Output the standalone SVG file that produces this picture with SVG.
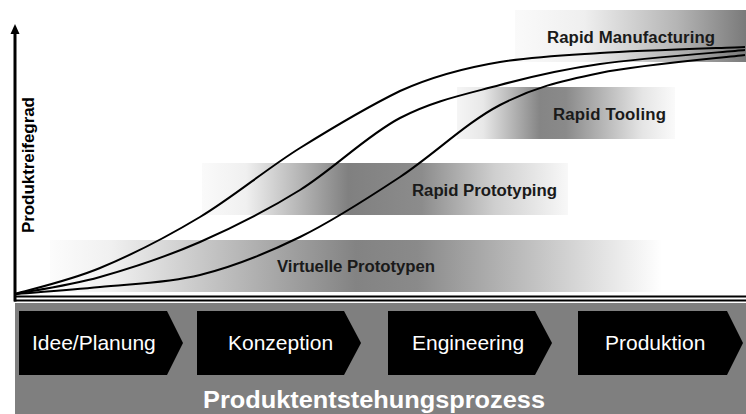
<svg xmlns="http://www.w3.org/2000/svg" width="746" height="414" viewBox="0 0 746 414">
  <defs>
    <linearGradient id="gVP" x1="0" y1="0" x2="1" y2="0">
      <stop offset="0" stop-color="#fcfcfc"/>
      <stop offset="0.1" stop-color="#f0f0f0"/>
      <stop offset="0.5" stop-color="#838383"/>
      <stop offset="0.6" stop-color="#8a8a8a"/>
      <stop offset="1" stop-color="#ffffff"/>
    </linearGradient>
    <linearGradient id="gRP" x1="0" y1="0" x2="1" y2="0">
      <stop offset="0" stop-color="#fafafa"/>
      <stop offset="0.12" stop-color="#f0f0f0"/>
      <stop offset="0.4" stop-color="#808080"/>
      <stop offset="0.6" stop-color="#8c8c8c"/>
      <stop offset="0.8" stop-color="#cfcfcf"/>
      <stop offset="1" stop-color="#f8f8f8"/>
    </linearGradient>
    <linearGradient id="gRT" x1="0" y1="0" x2="1" y2="0">
      <stop offset="0" stop-color="#f5f5f5"/>
      <stop offset="0.12" stop-color="#e8e8e8"/>
      <stop offset="0.38" stop-color="#858585"/>
      <stop offset="0.5" stop-color="#8a8a8a"/>
      <stop offset="0.85" stop-color="#e5e5e5"/>
      <stop offset="1" stop-color="#fafafa"/>
    </linearGradient>
    <linearGradient id="gRM" x1="0" y1="0" x2="1" y2="0">
      <stop offset="0" stop-color="#fafafa"/>
      <stop offset="0.3" stop-color="#efefef"/>
      <stop offset="0.7" stop-color="#b5b5b5"/>
      <stop offset="1" stop-color="#7a7a7a"/>
    </linearGradient>
  </defs>
  <style>
    .band-label { font-family: "Liberation Sans", Arial, sans-serif; font-weight: bold; font-size: 16.8px; fill: #1a1a1a; }
    .phase { fill: #000000; }
    .phase-label { font-family: "Liberation Sans", Arial, sans-serif; font-size: 21px; fill: #ffffff; }
    .curve { fill: none; stroke: #000000; stroke-width: 2; }
    .axis { stroke: #000000; fill: none; }
  </style>

  <rect width="746" height="414" fill="#ffffff"/>

  <g id="band-rapid-manufacturing">
    <rect x="515" y="10" width="231" height="52" fill="url(#gRM)"/>
    <text class="band-label" x="547" y="43" textLength="168">Rapid Manufacturing</text>
  </g>
  <g id="band-rapid-tooling">
    <rect x="457" y="87" width="218" height="52" fill="url(#gRT)"/>
    <text class="band-label" x="553" y="120" textLength="113">Rapid Tooling</text>
  </g>
  <g id="band-rapid-prototyping">
    <rect x="202" y="163" width="366" height="52" fill="url(#gRP)"/>
    <text class="band-label" x="412" y="196" textLength="145">Rapid Prototyping</text>
  </g>
  <g id="band-virtuelle-prototypen">
    <rect x="50" y="240" width="612" height="52" fill="url(#gVP)"/>
    <text class="band-label" x="277" y="272" textLength="158">Virtuelle Prototypen</text>
  </g>

  <g id="connectors">
    <path class="curve" d="M15,294 C29.2,289.7 69.2,280.8 100,268 C130.8,255.2 166.7,237 200,217 C233.3,197 266.7,168.7 300,148 C333.3,127.3 366.7,107.3 400,91 C433.3,76 466.7,67.5 500,62 C533.3,56.5 559.2,55.5 600,53 C640.8,50.5 720.8,48 745,47"/>
    <path class="curve" d="M15,294 C29.2,291.2 69.2,285.7 100,277 C130.8,268.3 166.7,256.5 200,242 C233.3,227.5 266.7,210.7 300,190 C333.3,169.3 366.7,135.5 400,118 C433.3,100.5 466.7,94 500,85 C533.3,76 559.2,69.8 600,64 C640.8,58.2 720.8,52.3 745,50"/>
    <path class="curve" d="M15,294 C29.2,292.8 69.2,290.2 100,287 C130.8,283.8 166.7,283.3 200,275 C233.3,266.7 266.7,253.3 300,237 C333.3,220.7 366.7,199 400,177 C433.3,155 466.7,122.3 500,105 C533.3,87.7 559.2,81.3 600,73 C640.8,64.7 720.8,58 745,55"/>
  </g>

  <g id="axes">
    <line class="axis" x1="15" y1="301.5" x2="15" y2="33" stroke-width="3"/>
    <polygon points="15,24 10.5,34 19.5,34" fill="#000000"/>
    <line class="axis" x1="14" y1="296.5" x2="746" y2="296.5" stroke-width="2"/>
    <line class="axis" x1="14" y1="300.5" x2="746" y2="300.5" stroke-width="2"/>
    <text x="0" y="0" transform="translate(34,233) rotate(-90)" font-family="Liberation Sans, Arial, sans-serif" font-weight="bold" font-size="17" fill="#000000" textLength="136">Produktreifegrad</text>
  </g>

  <g id="process-bar">
    <rect x="15" y="303" width="731" height="111" fill="#7f7f7f"/>
    <text x="203" y="408" font-family="Liberation Sans, Arial, sans-serif" font-weight="bold" font-size="24" fill="#ffffff" textLength="342" lengthAdjust="spacingAndGlyphs">Produktentstehungsprozess</text>
  </g>

  <g id="phase-idee">
    <polygon class="phase" points="19,311 167,311 183,343 167,375 19,375"/>
    <text class="phase-label" x="32" y="350">Idee/Planung</text>
  </g>
  <g id="phase-konzeption">
    <polygon class="phase" points="197,311 344,311 361,343 344,375 197,375"/>
    <text class="phase-label" x="228" y="350">Konzeption</text>
  </g>
  <g id="phase-engineering">
    <polygon class="phase" points="388,311 535,311 552,343 535,375 388,375"/>
    <text class="phase-label" x="412" y="350">Engineering</text>
  </g>
  <g id="phase-produktion">
    <polygon class="phase" points="578,311 727,311 743,343 727,375 578,375"/>
    <text class="phase-label" x="605" y="350">Produktion</text>
  </g>
</svg>
